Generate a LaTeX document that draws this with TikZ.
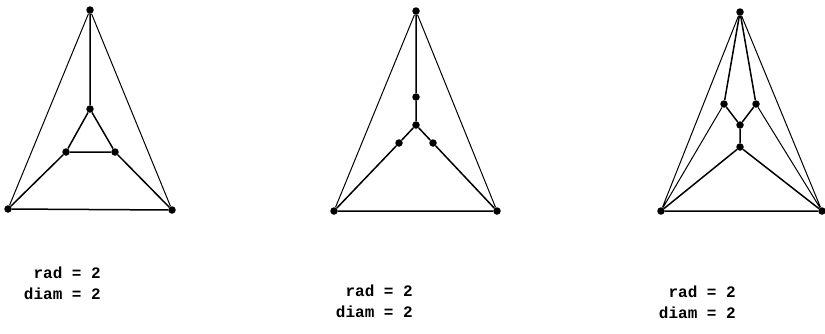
\documentclass[tikz,border=0pt]{standalone}
\usepackage{fontspec}
\setmonofont{Liberation Mono}
\begin{document}
\begin{tikzpicture}[x=1pt,y=-1pt,
  vtx/.style={circle,fill=black,inner sep=0pt,minimum size=7.5pt},
  edge/.style={line width=1.5pt},
  outer/.style={line width=1pt},
  lbl/.style={font=\ttfamily\bfseries\fontsize{16}{21}\selectfont,align=right,inner sep=0pt,anchor=east}]
\useasboundingbox (0,0) rectangle (825,333);
% graph 1
\node[vtx] (a1) at (90,10) {};
\node[vtx] (b1) at (90,109) {};
\node[vtx] (c1) at (66,152) {};
\node[vtx] (d1) at (115,152) {};
\node[vtx] (e1) at (8,209) {};
\node[vtx] (f1) at (172,210) {};
\draw[edge] (a1)--(b1) (b1)--(c1) (b1)--(d1) (c1)--(d1) (c1)--(e1) (d1)--(f1) (e1)--(f1);
\draw[outer] (a1)--(e1) (a1)--(f1);
% graph 2
\node[vtx] (a2) at (416,11) {};
\node[vtx] (b2) at (416,97) {};
\node[vtx] (c2) at (416,125) {};
\node[vtx] (d2) at (399,143) {};
\node[vtx] (g2) at (433,143) {};
\node[vtx] (e2) at (334,211) {};
\node[vtx] (f2) at (497,211) {};
\draw[edge] (a2)--(b2) (b2)--(c2) (c2)--(d2) (c2)--(g2) (d2)--(e2) (g2)--(f2) (e2)--(f2);
\draw[outer] (a2)--(e2) (a2)--(f2);
% graph 3
\node[vtx] (a3) at (740,12) {};
\node[vtx] (b3) at (724,104) {};
\node[vtx] (c3) at (756,104) {};
\node[vtx] (d3) at (740,125) {};
\node[vtx] (g3) at (740,147) {};
\node[vtx] (e3) at (661,211) {};
\node[vtx] (f3) at (822,211) {};
\draw[edge] (a3)--(b3) (a3)--(c3) (b3)--(d3) (c3)--(d3) (d3)--(g3) (g3)--(e3) (g3)--(f3) (e3)--(f3);
\draw[outer] (a3)--(e3) (a3)--(f3) (b3)--(e3) (c3)--(f3);
% labels
\node[lbl] (t1) at (101,283) {rad = 2\\diam = 2};
\node[lbl] (t2) at (413,301) {rad = 2\\diam = 2};
\node[lbl] (t3) at (736,302) {rad = 2\\diam = 2};
\end{tikzpicture}
\end{document}
